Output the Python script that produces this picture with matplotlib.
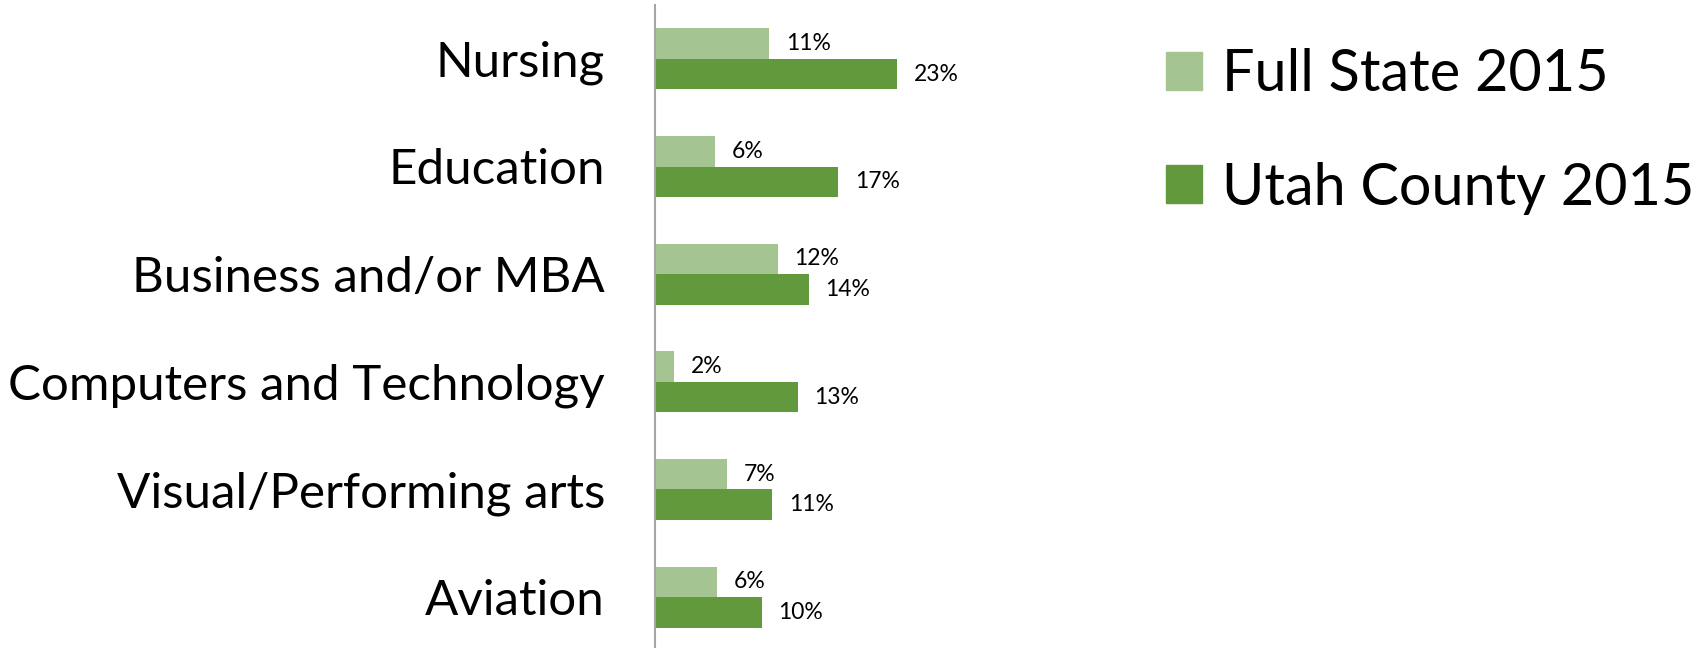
import matplotlib
matplotlib.use("Agg")
import numpy as np
import matplotlib.pyplot as plt
from matplotlib.patches import Patch

# values (labels show rounded percent)
categories = ["Nursing", "Education", "Business and/or MBA",
              "Computers and Technology", "Visual/Performing arts", "Aviation"]
full_state = [10.7, 5.6, 11.5, 1.8, 6.8, 5.8]
utah_county = [22.7, 17.2, 14.4, 13.4, 11.0, 10.0]
series_names = ["Full State 2015", "Utah County 2015"]

light = "#a4c592"
dark = "#63993d"

plt.rcParams['font.family'] = ['Lato', 'DejaVu Sans']

W, H = 1708, 648
fig = plt.figure(figsize=(W / 100, H / 100), dpi=100)

# plot area in pixels (left, right, top, bottom measured from the top-left)
px_left, px_right, px_top, px_bot = 655, 1100, 5, 651
ax = fig.add_axes([px_left / W, 1 - px_bot / H,
                   (px_right - px_left) / W, (px_bot - px_top) / H])

y = np.arange(len(categories))
h = 0.283
b1 = ax.barh(y - h / 2, full_state, height=h, color=light)
b2 = ax.barh(y + h / 2, utah_county, height=h, color=dark)

ax.set_xlim(0, (px_right - px_left) / 10.66)
ax.set_ylim(len(categories) - 0.5, -0.5)

for bars, vals in ((b1, full_state), (b2, utah_county)):
    for bar, v in zip(bars, vals):
        ax.annotate(f"{round(v):d}%", (v, bar.get_y() + bar.get_height() / 2),
                    xytext=(12, 0), textcoords='offset points',
                    va='center', ha='left', fontsize=16.5, color='black')

ax.set_yticks(y)
ax.set_yticklabels(categories, fontsize=35.5)
ax.tick_params(axis='y', length=0, pad=36)
ax.set_xticks([])
for s in ['top', 'right', 'bottom']:
    ax.spines[s].set_visible(False)
ax.spines['left'].set_color('#a6a6a6')
ax.spines['left'].set_linewidth(1.5)
ax.patch.set_alpha(0)

handles = [Patch(color=light), Patch(color=dark)]
fig.legend(handles, series_names, loc='upper left',
           bbox_to_anchor=(1166 / W, 1 - 48 / H), frameon=False,
           fontsize=41.5, handlelength=0.63, handleheight=0.63,
           handletextpad=0.35, labelspacing=1.05, borderpad=0,
           borderaxespad=0)

fig.savefig("out.png", dpi=100)
